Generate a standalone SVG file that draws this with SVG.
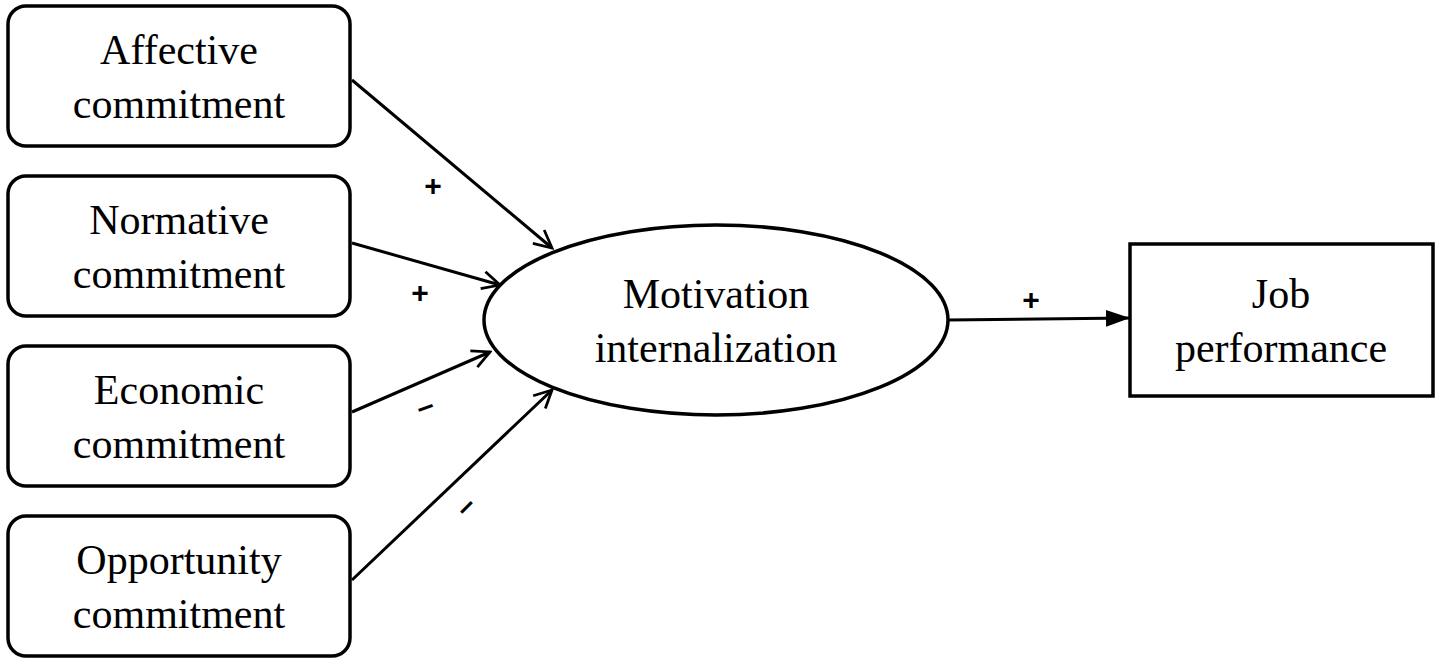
<svg xmlns="http://www.w3.org/2000/svg" width="1441" height="661" viewBox="0 0 1441 661">
<style>
.b{fill:#fff;stroke:#000;stroke-width:3.5}
.t{font-family:"Liberation Serif",serif;font-size:42px;text-anchor:middle;fill:#000}
.s{font-family:"Liberation Sans",sans-serif;font-size:30px;font-weight:bold;text-anchor:middle;fill:#000}
.c{stroke:#000;stroke-width:3;fill:none}
</style>
<defs>
<marker id="o" viewBox="0 0 20 20" refX="18" refY="10" markerWidth="22" markerHeight="22" markerUnits="userSpaceOnUse" orient="auto"><path d="M2,2 L18,10 L2,18" fill="none" stroke="#000" stroke-width="2.5"/></marker>
<marker id="f" viewBox="0 0 20 20" refX="20" refY="10" markerWidth="24" markerHeight="24" markerUnits="userSpaceOnUse" orient="auto"><path d="M0,3 L20,10 L0,17 Z" fill="#000"/></marker>
</defs>
<g id="affective"><rect class="b" x="8" y="6" width="342" height="140" rx="18"/><text class="t" x="179" y="64">Affective</text><text class="t" x="179" y="118">commitment</text></g>
<g id="normative"><rect class="b" x="8" y="176" width="342" height="140" rx="18"/><text class="t" x="179" y="234">Normative</text><text class="t" x="179" y="288">commitment</text></g>
<g id="economic"><rect class="b" x="8" y="346" width="342" height="140" rx="18"/><text class="t" x="179" y="404">Economic</text><text class="t" x="179" y="458">commitment</text></g>
<g id="opportunity"><rect class="b" x="8" y="516" width="342" height="140" rx="18"/><text class="t" x="179" y="574">Opportunity</text><text class="t" x="179" y="628">commitment</text></g>
<g id="motivation"><ellipse class="b" cx="716" cy="320" rx="232" ry="95"/><text class="t" x="716" y="308">Motivation</text><text class="t" x="716" y="362">internalization</text></g>
<g id="job"><rect class="b" x="1130" y="244" width="303" height="152"/><text class="t" x="1281" y="308">Job</text><text class="t" x="1281" y="362">performance</text></g>
<g id="connectors">
<line class="c" x1="352" y1="80" x2="552" y2="248" marker-end="url(#o)"/>
<line class="c" x1="352" y1="243" x2="500" y2="285" marker-end="url(#o)"/>
<line class="c" x1="352" y1="412" x2="490" y2="352" marker-end="url(#o)"/>
<line class="c" x1="352" y1="580" x2="552" y2="390" marker-end="url(#o)"/>
<line class="c" x1="948" y1="320" x2="1130" y2="318" marker-end="url(#f)"/>
<text class="s" x="433" y="196">+</text>
<text class="s" x="420" y="303">+</text>
<text class="s" x="425" y="416" transform="rotate(-20 425 406)">–</text>
<text class="s" x="465" y="516" transform="rotate(-45 465 506)">–</text>
<text class="s" x="1031" y="310">+</text>
</g>
</svg>
